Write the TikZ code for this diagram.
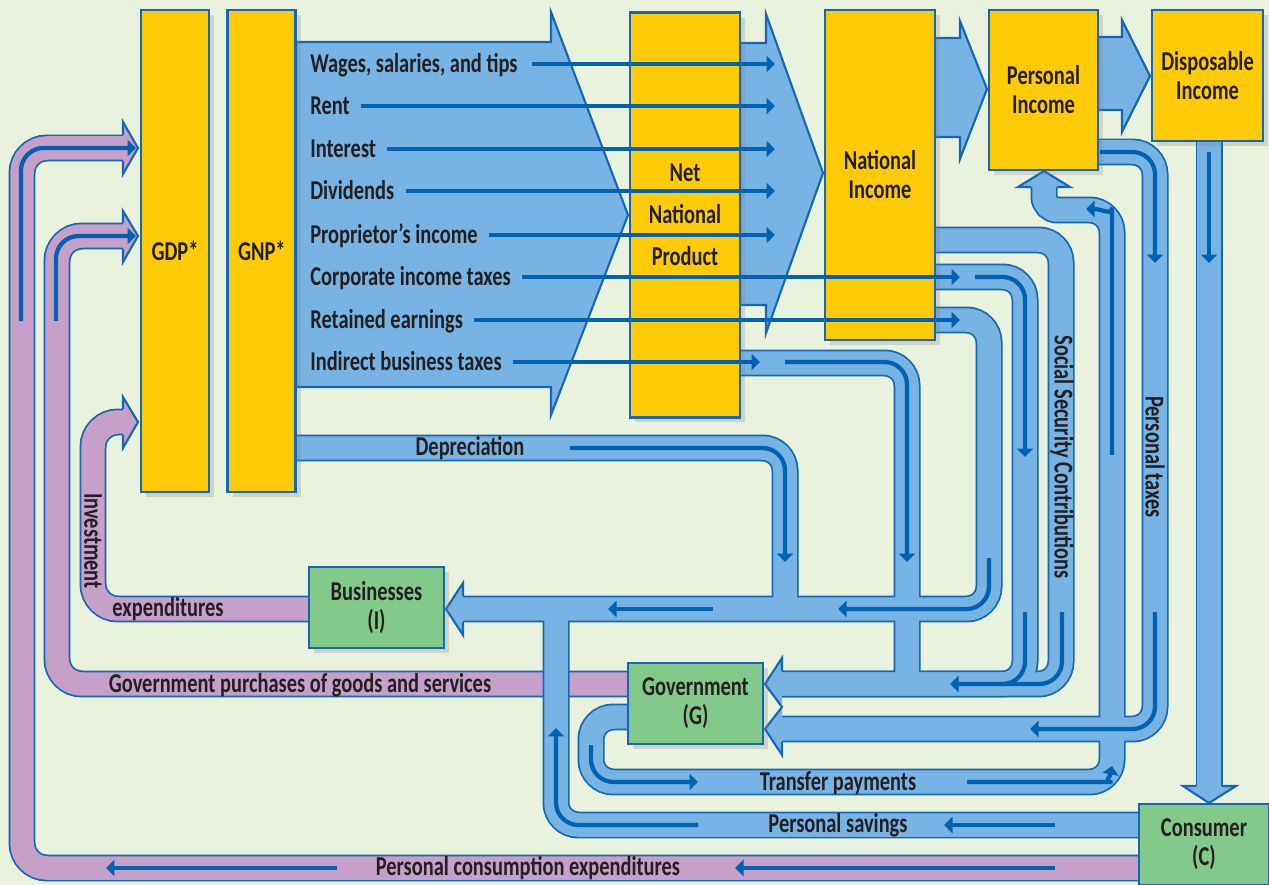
\documentclass[tikz,border=0pt]{standalone}
\usepackage{fontspec}
\setmainfont{Carlito}[FakeStretch=0.75]
\usetikzlibrary{arrows.meta,positioning,calc,shadows}
\definecolor{bgcol}{HTML}{E9F2DC}
\definecolor{bandblue}{HTML}{78B4E3}
\definecolor{bandline}{HTML}{1466B6}
\definecolor{flowblue}{HTML}{0062B1}
\definecolor{bandpurple}{HTML}{C6A0C8}
\definecolor{boxyellow}{HTML}{FFCB08}
\definecolor{boxgreen}{HTML}{82C98A}
\definecolor{txt}{HTML}{231F20}
\tikzset{
  incbox/.style={draw=bandline, line width=1.6pt, fill=boxyellow, rectangle, inner sep=0pt, align=center,
    font=\bfseries\fontsize{15.5}{16.5}\selectfont, text=txt,
    drop shadow={opacity=0.25, shadow xshift=0.1cm, shadow yshift=-0.1cm}},
  sectbox/.style={incbox, fill=boxgreen, minimum width=2.7cm, minimum height=1.62cm},
  lbl/.style={font=\bfseries\fontsize{15.5}{16.5}\selectfont, text=txt, inner sep=0pt},
  rowlbl/.style={lbl, anchor=base west},
  bandlbl/.style={lbl, anchor=base},
  flow/.style={-{Triangle[length=0.17cm, width=0.32cm]}, line width=0.085cm, draw=flowblue, rounded corners=0.45cm},
  flowplain/.style={line width=0.085cm, draw=flowblue, rounded corners=0.45cm},
  chevron/.style={fill=bandblue, draw=bandline, line width=1.2pt},
  headedge/.style={draw=bandline, line width=1.2pt}
}
\begin{document}
\begin{tikzpicture}[x=0.02cm, y=-0.02cm]
  \useasboundingbox[fill=bgcol] (0,0) rectangle (1269,885);

  % expenditure bands (purple)
  \foreach \w/\c in {0.54cm/bandline, 0.47cm/bandpurple}{
    \begin{scope}[line width=\w, draw=\c, rounded corners=0.5cm]
      \draw (1139,868) -- (22,868) -- (22,148) -- (123,148);
      \draw (628,684) -- (57,684) -- (57,236) -- (123,236);
      \draw (309,609) -- (93,609) -- (93,422) -- (123,422);
    \end{scope}
  }

  % income bands (blue), edges first then fills so that joins merge
  \foreach \w/\c in {0.54cm/bandline, 0.47cm/bandblue}{
    \begin{scope}[line width=\w, draw=\c, rounded corners=0.45cm]
      \draw (296,448) -- (785,448) -- (785,609);
      \draw (463,609) -- (989,609) -- (989,320) -- (935,320);
      \draw (740,363) -- (907,363) -- (907,684);
      \draw (935,240) -- (1061,240) -- (1061,684) -- (782,684);
      \draw (935,277) -- (1025,277) -- (1025,684) -- (782,684);
      \draw (1098,152) -- (1155,152) -- (1155,729) -- (782,729);
      \draw (628,717) -- (591,717) -- (591,782) -- (1112,782) -- (1112,210) [rounded corners=0.27cm] -- (1044,210) -- (1044,187);
      \draw (1139,825) -- (556,825) -- (556,609);
      \draw (1209,141) -- (1209,786);
    \end{scope}
  }

  % big arrows between the income boxes
  \draw[chevron] (296,42) -- (551,42) -- (551,12) -- (628,215) -- (551,415) -- (551,387) -- (296,387) -- cycle;
  \draw[chevron] (740,43) -- (766,43) -- (766,14) -- (823,173) -- (766,333) -- (766,305) -- (740,305) -- cycle;
  \draw[chevron] (935,38) -- (960,38) -- (960,21) -- (987,89) -- (960,159) -- (960,137) -- (935,137) -- cycle;
  \draw[chevron] (1098,37) -- (1122,37) -- (1122,20) -- (1150,76) -- (1122,132) -- (1122,110) -- (1098,110) -- cycle;

  % band heads
  \fill[bandblue] (463,583) -- (446,609) -- (463,635) -- cycle;
  \draw[headedge] (463,596) -- (463,583) -- (446,609) -- (463,635) -- (463,622);
  \fill[bandblue] (782,658) -- (765,684) -- (782,707) -- (765,729) -- (782,755) -- cycle;
  \draw[headedge] (782,671) -- (782,658) -- (765,684) -- (782,707) -- (765,729) -- (782,755) -- (782,742);
  \fill[bandblue] (1183,786) -- (1209,803) -- (1236,786) -- cycle;
  \draw[headedge] (1196,786) -- (1183,786) -- (1209,803) -- (1236,786) -- (1222,786);
  \fill[bandblue] (1018,187) -- (1044,171) -- (1070,187) -- cycle;
  \draw[headedge] (1031,187) -- (1018,187) -- (1044,171) -- (1070,187) -- (1057,187);
  \fill[bandpurple] (123,122) -- (138,148) -- (123,174) -- cycle;
  \draw[headedge] (123,135) -- (123,122) -- (138,148) -- (123,174) -- (123,161);
  \fill[bandpurple] (123,211) -- (138,236) -- (123,262) -- cycle;
  \draw[headedge] (123,223) -- (123,211) -- (138,236) -- (123,262) -- (123,249);
  \fill[bandpurple] (123,397) -- (138,422) -- (123,448) -- cycle;
  \draw[headedge] (123,409) -- (123,397) -- (138,422) -- (123,448) -- (123,435);

  % boxes
  \node[incbox, minimum width=1.36cm, minimum height=9.64cm] (gdp) at (175,251) {GDP*};
  \node[incbox, minimum width=1.36cm, minimum height=9.64cm, right=0.32cm of gdp] (gnp) {GNP*};
  \node[incbox, minimum width=2.2cm, minimum height=8.1cm, font=\bfseries\fontsize{15.5}{24}\selectfont] (nnp) at (685,215) {Net\\National\\Product};
  \node[incbox, minimum width=2.2cm, minimum height=6.6cm] (ni) at (880,175) {National\\Income};
  \node[incbox, minimum width=2.18cm, minimum height=3.2cm] (pi) at (1043.5,90) {Personal\\Income};
  \node[incbox, minimum width=2.22cm, minimum height=2.62cm] (di) at (1207.5,75.5) {Disposable\\Income};
  \node[sectbox] (bus) at (376.5,607.5) {Businesses\\(I)};
  \node[sectbox] (gov) at (695.5,703.5) {Government\\(G)};
  \node[sectbox, minimum width=2.6cm] (con) at (1204,844.5) {Consumer\\(C)};

  % components of GNP
  \coordinate (nnpout) at (775,0);
  \coordinate (niout) at (960,0);
  \coordinate (ibtout) at (760,0);
  \node[rowlbl] (wages) at (310,73) {Wages, salaries, and tips};
  \node[rowlbl] (rent) at (310,115) {Rent};
  \node[rowlbl] (interest) at (310,158) {Interest};
  \node[rowlbl] (divid) at (310,200) {Dividends};
  \node[rowlbl] (propr) at (310,244) {Proprietor’s income};
  \node[rowlbl] (corp) at (310,286) {Corporate income taxes};
  \node[rowlbl] (retain) at (310,329) {Retained earnings};
  \node[rowlbl] (indir) at (310,371) {Indirect business taxes};
  \draw[flow] ([xshift=0.28cm, yshift=0.18cm]wages.base east) -- ([yshift=0.18cm]wages.base east -| nnpout);
  \draw[flow] ([xshift=0.22cm, yshift=0.18cm]rent.base east) -- ([yshift=0.18cm]rent.base east -| nnpout);
  \draw[flow] ([xshift=0.22cm, yshift=0.18cm]interest.base east) -- ([yshift=0.18cm]interest.base east -| nnpout);
  \draw[flow] ([xshift=0.22cm, yshift=0.18cm]divid.base east) -- ([yshift=0.18cm]divid.base east -| nnpout);
  \draw[flow] ([xshift=0.22cm, yshift=0.18cm]propr.base east) -- ([yshift=0.18cm]propr.base east -| nnpout);
  \draw[flow] ([xshift=0.22cm, yshift=0.18cm]corp.base east) -- ([yshift=0.18cm]corp.base east -| niout);
  \draw[flow] ([xshift=0.22cm, yshift=0.18cm]retain.base east) -- ([yshift=0.18cm]retain.base east -| niout);
  \draw[flow] ([xshift=0.22cm, yshift=0.18cm]indir.base east) -- ([yshift=0.18cm]indir.base east -| ibtout);

  % flows inside the bands
  \draw[flow] (570,448) -- (785,448) -- (785,562);
  \draw[flow] (989,558) -- (989,609) -- (838,609);
  \draw[flow] (713,609) -- (608,609);
  \draw[flow] (785,362) -- (907,362) -- (907,562);
  \draw[flow] (975,277) -- (1025,277) -- (1025,457);
  \draw[flow] (1025,612) -- (1025,684) -- (950,684);
  \draw[flowplain] (1062,612) -- (1062,684) -- (1000,684);
  \draw[flow] (1100,152) -- (1155,152) -- (1155,263);
  \draw[flow] (1155,612) -- (1155,729) -- (1030,729);
  \draw[flow] (1209,152) -- (1209,263);
  \draw[flow] (591,745) -- (591,782) -- (698,782);
  \draw[flow] (967,782) -- (1090,782) .. controls (1103,782) and (1110,777) .. (1112,766);
  \draw[flow] (1112,455) -- (1112,230) .. controls (1112,216) and (1102,209) .. (1086,209);
  \draw[flow] (1055,825) -- (944,825);
  \draw[flow] (698,825) -- (556,825) -- (556,728);
  \draw[flow] (1055,868) -- (735,868);
  \draw[flow] (337,868) -- (106,868);
  \draw[flow] (21,321) -- (21,148) -- (136,148);
  \draw[flow] (56,321) -- (56,236) -- (136,236);

  % band labels
  \node[bandlbl] (dep) at (470,456) {Depreciation};
  \node[bandlbl] (trans) at (838,790) {Transfer payments};
  \node[bandlbl] (sav) at (838,832) {Personal savings};
  \node[bandlbl] (pce) at (528,875) {Personal consumption expenditures};
  \node[bandlbl] (gpur) at (300,692) {Government purchases of goods and services};
  \node[bandlbl] (expd) at (168,616) {expenditures};
  \node[lbl, rotate=-90] (inv) at (93,541) {Investment};
  \node[lbl, rotate=-90] (ssc) at (1062,457) {Social Security Contributions};
  \node[lbl, rotate=-90] (ptax) at (1155,457) {Personal taxes};
\end{tikzpicture}
\end{document}
